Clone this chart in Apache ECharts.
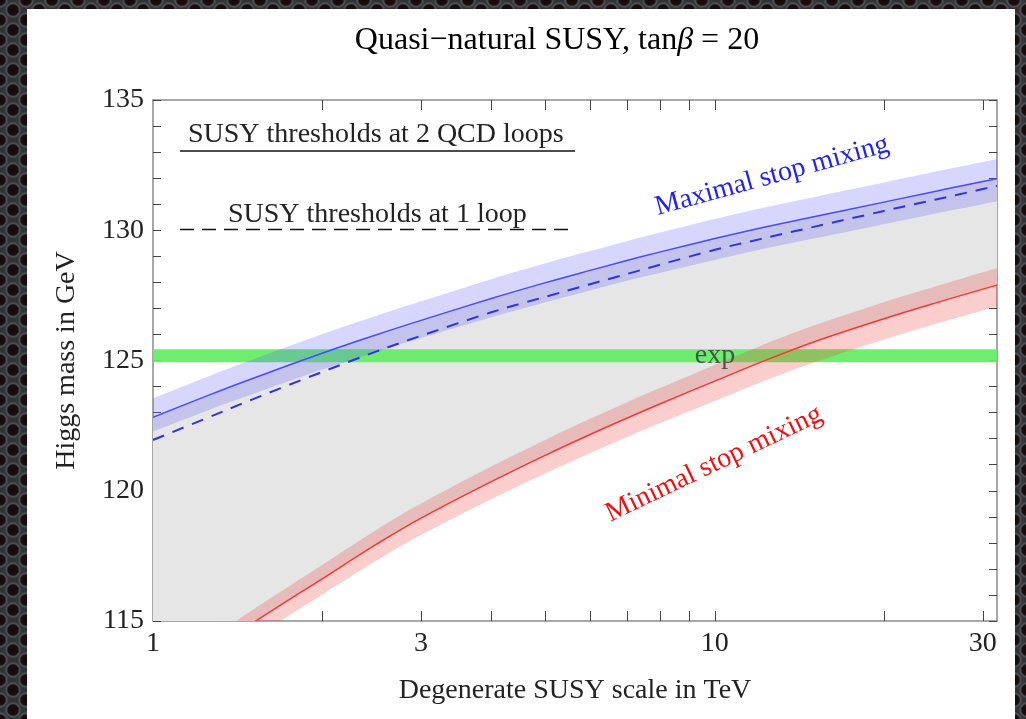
<!DOCTYPE html>
<html><head><meta charset="utf-8">
<script src="https://cdn.jsdelivr.net/npm/echarts@6/dist/echarts.min.js"></script>
<style>
html,body{margin:0;padding:0;}
body{width:1026px;height:719px;overflow:hidden;position:relative;background-color:#303336;
background-image:radial-gradient(circle, #140808 0px, #1c0e0e 5px, #4e5256 6.5px, #3a3d41 8px, transparent 8.6px),radial-gradient(circle, #140808 0px, #1c0e0e 5px, #4e5256 6.5px, #3a3d41 8px, transparent 8.6px);
background-size:26px 20px;background-position:0 0,13px 10px;}
#panel{position:absolute;left:27px;top:9px;width:988px;height:710px;background:#fff;}
#chart{position:absolute;left:0;top:0;width:1026px;height:719px;}
</style></head>
<body>
<div id="panel"></div>
<div id="chart"></div>
<script>
// ---------------- data ----------------
const massTeV = [1, 1.25, 1.5, 2, 2.5, 3, 4, 5, 6, 7, 8, 10, 12, 15, 20, 25, 30, 32];
// maximal stop mixing, SUSY thresholds at 2 QCD loops (solid blue) and its uncertainty band
const maxMix2Loop     = [122.82, 123.65, 124.30, 125.28, 125.99, 126.54, 127.38, 127.99, 128.46, 128.85, 129.17, 129.68, 130.08, 130.52, 131.08, 131.52, 131.87, 131.99];
const maxMix2LoopHigh = [123.55, 124.38, 125.03, 126.01, 126.72, 127.27, 128.12, 128.73, 129.20, 129.59, 129.91, 130.43, 130.83, 131.27, 131.83, 132.27, 132.62, 132.75];
const maxMix2LoopLow  = [122.27, 123.08, 123.70, 124.65, 125.33, 125.86, 126.66, 127.24, 127.69, 128.07, 128.37, 128.86, 129.25, 129.68, 130.23, 130.66, 131.00, 131.12];
// maximal stop mixing, SUSY thresholds at 1 loop (dashed blue)
const maxMix1Loop     = [121.95, 122.80, 123.50, 124.56, 125.35, 125.95, 126.85, 127.45, 127.93, 128.33, 128.68, 129.25, 129.65, 130.13, 130.74, 131.20, 131.58, 131.71];
// minimal stop mixing (solid red) and its uncertainty band
const minMix2Loop     = [112.15, 113.70, 114.90, 116.62, 117.95, 118.95, 120.35, 121.37, 122.16, 122.80, 123.34, 124.21, 124.91, 125.71, 126.60, 127.24, 127.74, 127.91];
const minMix2LoopHigh = [112.65, 114.20, 115.41, 117.15, 118.50, 119.51, 120.93, 121.96, 122.76, 123.41, 123.95, 124.83, 125.54, 126.34, 127.24, 127.88, 128.39, 128.56];
const minMix2LoopLow  = [111.57, 113.12, 114.31, 116.01, 117.32, 118.30, 119.67, 120.67, 121.44, 122.07, 122.60, 123.45, 124.14, 124.92, 125.80, 126.43, 126.92, 127.08];
// experimental Higgs mass band
const expHiggsLow = 124.93;
const expHiggsHigh = 125.43;
// axes
const xMin = 1, xMax = 31.8;
const xLabelValues = [1, 3, 10, 30];
const xTickValues = [2, 3, 4, 5, 6, 7, 8, 9, 10, 20, 30];
const yMin = 115, yMax = 135, yStep = 5;

// ---------------- helpers ----------------
const FONT = "'Liberation Serif','Times New Roman',serif";

// smooth path through pixel points (Catmull-Rom -> cubic Bezier)
function smoothSegs(pts, start) {
  let d = (start ? 'M' : 'L') + pts[0][0].toFixed(2) + ',' + pts[0][1].toFixed(2);
  for (let i = 0; i < pts.length - 1; i++) {
    const p0 = pts[i - 1] || pts[i], p1 = pts[i], p2 = pts[i + 1], p3 = pts[i + 2] || pts[i + 1];
    const c1 = [p1[0] + (p2[0] - p0[0]) / 6, p1[1] + (p2[1] - p0[1]) / 6];
    const c2 = [p2[0] - (p3[0] - p1[0]) / 6, p2[1] - (p3[1] - p1[1]) / 6];
    d += ' C' + c1[0].toFixed(2) + ',' + c1[1].toFixed(2) + ' ' + c2[0].toFixed(2) + ',' + c2[1].toFixed(2) + ' ' + p2[0].toFixed(2) + ',' + p2[1].toFixed(2);
  }
  return d;
}
function clipRect(params) {
  const cs = params.coordSys;
  return { type: 'rect', shape: { x: cs.x, y: cs.y, width: cs.width, height: cs.height } };
}
function bandSeries(id, lo, hi, color, z) {
  return {
    name: id, type: 'custom', coordinateSystem: 'cartesian2d', z: z, silent: true,
    data: massTeV.map((x, i) => [x, lo[i], hi[i]]),
    encode: { x: 0, y: [1, 2] },
    renderItem: function (params, api) {
      if (params.dataIndex !== 0) return null;
      const top = massTeV.map((x, i) => api.coord([x, hi[i]]));
      const bot = massTeV.map((x, i) => api.coord([x, lo[i]])).reverse();
      const d = smoothSegs(top, true) + ' ' + smoothSegs(bot, false) + ' Z';
      return { type: 'path', shape: { pathData: d }, style: { fill: color, stroke: null }, clipPath: clipRect(params) };
    }
  };
}
function curveSeries(id, ys, stroke, width, dash) {
  return {
    name: id, type: 'custom', coordinateSystem: 'cartesian2d', z: 5, silent: true,
    data: massTeV.map((x, i) => [x, ys[i]]),
    encode: { x: 0, y: 1 },
    renderItem: function (params, api) {
      if (params.dataIndex !== 0) return null;
      const pts = massTeV.map((x, i) => api.coord([x, ys[i]]));
      return { type: 'path', shape: { pathData: smoothSegs(pts, true) },
        style: { fill: 'none', stroke: stroke, lineWidth: width, lineDash: dash || null },
        clipPath: clipRect(params) };
    }
  };
}

const frame = { show: true, onZero: false, lineStyle: { color: '#8a8a8a', width: 1.5 } };
const tickStyle = { color: '#444', width: 1 };
const xAxisBase = {
  type: 'log', logBase: 10, min: xMin, max: xMax,
  axisLine: frame, splitLine: { show: false },
  axisTick: { show: true, inside: true, length: 10, lineStyle: tickStyle, customValues: xTickValues }
};
const yAxisBase = {
  type: 'value', min: yMin, max: yMax, interval: yStep,
  axisLine: frame, splitLine: { show: false },
  axisTick: { show: true, inside: true, length: 8, lineStyle: tickStyle },
  minorTick: { show: true, splitNumber: 5, length: 8, lineStyle: tickStyle }
};

const series = [
  // grey region between minimal and maximal stop mixing
  bandSeries('range', minMix2Loop, maxMix2Loop, '#e6e6e6', 1),
  {
    name: 'exp', type: 'custom', coordinateSystem: 'cartesian2d', z: 2, silent: true,
    data: [[xMin, expHiggsLow, expHiggsHigh]],
    encode: { x: 0, y: [1, 2] },
    renderItem: function (params, api) {
      const a = api.coord([xMin, expHiggsHigh]);
      const b = api.coord([xMax, expHiggsLow]);
      return { type: 'rect', shape: { x: a[0], y: a[1], width: b[0] - a[0], height: b[1] - a[1] }, style: { fill: 'rgba(100,236,100,0.93)' } };
    }
  },
  bandSeries('maxBand', maxMix2LoopLow, maxMix2LoopHigh, 'rgba(90,90,255,0.25)', 3),
  bandSeries('minBand', minMix2LoopLow, minMix2LoopHigh, 'rgba(240,60,60,0.25)', 3),
  curveSeries('max1loop', maxMix1Loop, '#3030ee', 2, [12, 9]),
  curveSeries('max2loop', maxMix2Loop, '#4a4aff', 1.5),
  curveSeries('min2loop', minMix2Loop, '#ff3535', 1.5)
];

const chart = echarts.init(document.getElementById('chart'), null, { renderer: 'canvas' });
const option = {
  backgroundColor: 'transparent',
  animation: false,
  grid: { left: 153, top: 100, right: 29, bottom: 98 },
  xAxis: [
    Object.assign({}, xAxisBase, {
      position: 'bottom',
      axisLabel: { show: true, customValues: xLabelValues, fontSize: 28, fontFamily: FONT, color: '#222', margin: 9, formatter: (v) => String(v) },
      name: 'Degenerate SUSY scale in TeV', nameLocation: 'middle', nameGap: 56,
      nameTextStyle: { fontSize: 28, fontFamily: FONT, color: '#222' }
    }),
    Object.assign({}, xAxisBase, { position: 'top', axisLabel: { show: false } })
  ],
  yAxis: [
    Object.assign({}, yAxisBase, {
      position: 'left',
      axisLabel: { show: true, fontSize: 28, fontFamily: FONT, color: '#222', margin: 9 },
      name: 'Higgs mass in GeV', nameLocation: 'middle', nameGap: 72,
      nameTextStyle: { fontSize: 28, fontFamily: FONT, color: '#222' }
    }),
    Object.assign({}, yAxisBase, { position: 'right', axisLabel: { show: false } })
  ],
  series: series,
  graphic: [
    { type: 'text', x: 557, y: 41, z: 100, style: {
        text: '{a|Quasi\u2212natural SUSY, tan}{b|\u03B2}{a| = 20}',
        align: 'center', verticalAlign: 'middle',
        rich: { a: { fontSize: 32, fontFamily: FONT, color: '#1a1a1a' },
                b: { fontSize: 32, fontFamily: FONT, fontStyle: 'italic', color: '#1a1a1a' } } } },
    { type: 'text', x: 188, y: 135, z: 100, style: { text: 'SUSY thresholds at 2 QCD loops', font: '28px ' + FONT, fill: '#222', align: 'left', verticalAlign: 'middle' } },
    { type: 'line', z: 100, shape: { x1: 180, y1: 151, x2: 575, y2: 151 }, style: { stroke: '#111', lineWidth: 1.5 } },
    { type: 'text', x: 228, y: 215, z: 100, style: { text: 'SUSY thresholds at 1 loop', font: '28px ' + FONT, fill: '#222', align: 'left', verticalAlign: 'middle' } },
    { type: 'line', z: 100, shape: { x1: 180, y1: 229.5, x2: 575, y2: 229.5 }, style: { stroke: '#111', lineWidth: 1.5, lineDash: [14, 8] } },
    { type: 'text', x: 772, y: 176, z: 100, rotation: 15.4 * Math.PI / 180, style: { text: 'Maximal stop mixing', font: '28px ' + FONT, fill: '#2222ee', align: 'center', verticalAlign: 'middle' } },
    { type: 'text', x: 714, y: 464, z: 100, rotation: 25.6 * Math.PI / 180, style: { text: 'Minimal stop mixing', font: '28px ' + FONT, fill: '#ee1111', align: 'center', verticalAlign: 'middle' } },
    { type: 'text', x: 715, y: 356, z: 100, style: { text: 'exp', font: '28px ' + FONT, fill: 'rgba(60,60,60,0.85)', align: 'center', verticalAlign: 'middle' } }
  ]
};
chart.setOption(option);
</script>
</body></html>
